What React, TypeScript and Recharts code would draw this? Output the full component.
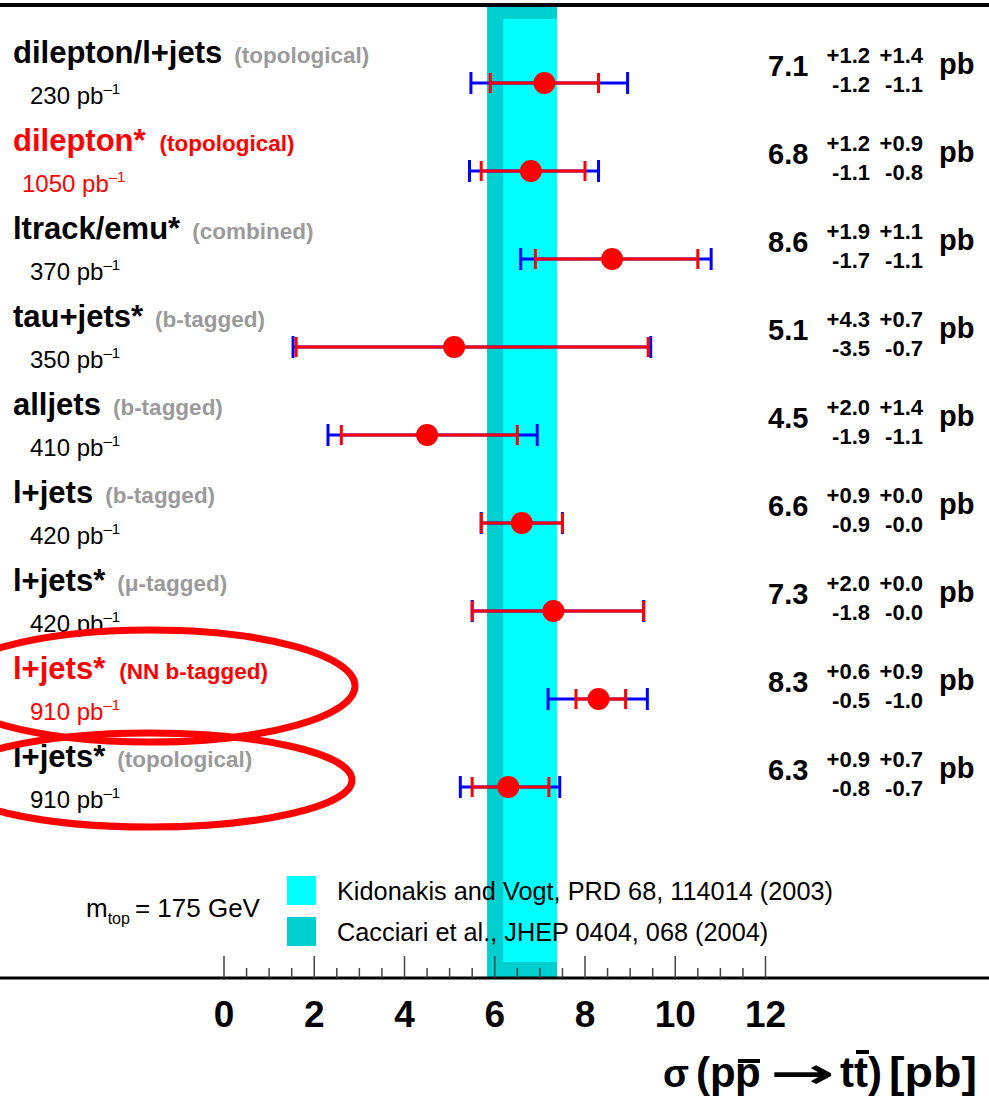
import React from 'react';
import {
  ComposedChart,
  Scatter,
  XAxis,
  YAxis,
  ErrorBar,
  ReferenceArea,
  ReferenceLine,
} from 'recharts';

// ---- measurements (pb) ----
const channels = ['dilepton/l+jets', 'dilepton*', 'ltrack/emu*', 'tau+jets*', 'alljets', 'l+jets', 'l+jets*', 'l+jets*', 'l+jets*'];
const methods = ['(topological)', '(topological)', '(combined)', '(b-tagged)', '(b-tagged)', '(b-tagged)', '(\u03bc-tagged)', '(NN b-tagged)', '(topological)'];
const lumis = ['230', '1050', '370', '350', '410', '420', '420', '910', '910'];
const highlighted = [false, true, false, false, false, false, false, true, false];
const xsec = [7.1, 6.8, 8.6, 5.1, 4.5, 6.6, 7.3, 8.3, 6.3];
const statUp = [1.2, 1.2, 1.9, 4.3, 2.0, 0.9, 2.0, 0.6, 0.9];
const statDown = [1.2, 1.1, 1.7, 3.5, 1.9, 0.9, 1.8, 0.5, 0.8];
const systUp = [1.4, 0.9, 1.1, 0.7, 1.4, 0.0, 0.0, 0.9, 0.7];
const systDown = [1.1, 0.8, 1.1, 0.7, 1.1, 0.0, 0.0, 1.0, 0.7];

// ---- theory predictions (pb) ----
const theoryLabels = ['Kidonakis and Vogt, PRD 68, 114014 (2003)', 'Cacciari et al., JHEP 0404, 068 (2004)'];
const theoryLow = [6.19, 5.83];
const theoryHigh = [7.38, 7.38];
const theoryColors = ['#00ffff', '#00cfcf'];

// ---- axis ticks ----
const majorTicks = [0, 2, 4, 6, 8, 10, 12];
const minorTicks = [0, 0.5, 1, 1.5, 2, 2.5, 3, 3.5, 4, 4.5, 5, 5.5, 6, 6.5, 7, 7.5, 8, 8.5, 9, 9.5, 10, 10.5, 11, 11.5, 12];

// ---- layout ----
const W = 989;
const H = 1104;
const PLOT_TOP = 5;
const PLOT_BOTTOM = 978;
const ROW0 = 83;
const ROW_STEP = 88;
const X_ZERO = 224;
const PX_PER_PB = 45.125;
const FONT = '"Liberation Sans", Arial, Helvetica, sans-serif';
const RED = '#ff0000';
const BLUE = '#0000ff';

const xDomain: [number, number] = [-X_ZERO / PX_PER_PB, (W - X_ZERO) / PX_PER_PB];
const yTop = (PLOT_TOP - ROW0) / ROW_STEP;
const yBottom = (PLOT_BOTTOM - ROW0) / ROW_STEP;
const lightTop = (19 - ROW0) / ROW_STEP;
const lightBottom = (962 - ROW0) / ROW_STEP;

const quad = (a: number, b: number) => Math.sqrt(a * a + b * b);

const points = xsec.map((v, i) => ({
  xs: v,
  row: i,
  stat: [statDown[i], statUp[i]],
  total: [quad(statDown[i], systDown[i]), quad(statUp[i], systUp[i])],
}));

const rowY = (i: number) => ROW0 + ROW_STEP * i;

const AxisTick = (props: any) => {
  const { x, y, payload } = props;
  const v = payload.value as number;
  const major = majorTicks.includes(v);
  return (
    <g>
      <line x1={x} x2={x} y1={y} y2={y - (major ? 22 : 10)} stroke="#444" strokeWidth={1.5} />
      {major && (
        <text x={x} y={y + 49} textAnchor="middle" fontSize={37} fontWeight="bold" fill="#000" fontFamily={FONT}>
          {v}
        </text>
      )}
    </g>
  );
};

const Dot = (props: any) => <circle cx={props.cx} cy={props.cy} r={11} fill={RED} />;
const NoDot = () => <g />;

const fmt = (v: number) => v.toFixed(1);

export default function App() {
  return (
    <div style={{ position: 'absolute', left: 0, top: 0, width: W, height: H, background: '#fff' }}>
      <ComposedChart width={W} height={H} margin={{ top: PLOT_TOP, right: 0, bottom: 0, left: 0 }}>
        <XAxis
          type="number"
          dataKey="xs"
          domain={xDomain}
          allowDataOverflow
          ticks={minorTicks}
          interval={0}
          height={H - PLOT_BOTTOM}
          axisLine={{ stroke: '#000', strokeWidth: 3 }}
          tickLine={false}
          tickSize={0}
          tickMargin={0}
          tick={<AxisTick />}
        />
        <YAxis type="number" dataKey="row" domain={[yTop, yBottom]} allowDataOverflow reversed hide />
        <ReferenceArea x1={theoryLow[1]} x2={theoryHigh[1]} y1={yTop} y2={yBottom} fill={theoryColors[1]} fillOpacity={1} stroke="none" />
        <ReferenceArea x1={theoryLow[0]} x2={theoryHigh[0]} y1={lightTop} y2={lightBottom} fill={theoryColors[0]} fillOpacity={1} stroke="none" />
        <ReferenceLine y={yTop} stroke="#000" strokeWidth={4} />
        <Scatter data={points} dataKey="row" shape={<NoDot />} isAnimationActive={false}>
          <ErrorBar dataKey="total" direction="x" width={11} stroke={BLUE} strokeWidth={3} isAnimationActive={false} />
        </Scatter>
        <Scatter data={points} dataKey="row" shape={<Dot />} isAnimationActive={false}>
          <ErrorBar dataKey="stat" direction="x" width={10} stroke={RED} strokeWidth={3} isAnimationActive={false} />
        </Scatter>
      </ComposedChart>

      <svg
        width={W}
        height={H}
        style={{ position: 'absolute', left: 0, top: 0, pointerEvents: 'none' }}
        fontFamily={FONT}
      >
        {channels.map((name, i) => {
          const y = rowY(i);
          const hl = highlighted[i];
          const col = hl ? RED : '#000';
          return (
            <g key={i}>
              <text x={13} y={y - 20} fontSize={31} fontWeight="bold" fill={col}>
                {name}
                <tspan dx={hl ? 14 : 12} fontSize={22.5} fill={hl ? RED : '#9a9a9a'}>
                  {methods[i]}
                </tspan>
              </text>
              <text x={lumis[i].length > 3 ? 22 : 30} y={y + 21} fontSize={24} fill={col}>
                {lumis[i]} pb
                <tspan dy={-10} fontSize={15}>
                  {'\u20131'}
                </tspan>
              </text>
              <text x={768} y={y - 7} fontSize={29} fontWeight="bold" fill="#000">
                {fmt(xsec[i])}
              </text>
              <text x={870} y={y - 20} fontSize={22} fontWeight="bold" textAnchor="end">
                {'+' + fmt(statUp[i])}
              </text>
              <text x={923} y={y - 20} fontSize={22} fontWeight="bold" textAnchor="end">
                {'+' + fmt(systUp[i])}
              </text>
              <text x={870} y={y + 9} fontSize={22} fontWeight="bold" textAnchor="end">
                {'-' + fmt(statDown[i])}
              </text>
              <text x={923} y={y + 9} fontSize={22} fontWeight="bold" textAnchor="end">
                {'-' + fmt(systDown[i])}
              </text>
              <text x={939} y={y - 9} fontSize={29} fontWeight="bold">
                pb
              </text>
            </g>
          );
        })}

        {/* legend */}
        <text x={86} y={917} fontSize={26}>
          m
          <tspan dy={7} fontSize={16}>top</tspan>
          <tspan dy={-7} dx={5}>= 175 GeV</tspan>
        </text>
        {theoryLabels.map((label, i) => (
          <g key={label}>
            <rect x={287} y={876 + 41 * i} width={29} height={29} fill={theoryColors[i]} />
            <text x={337} y={900 + 41 * i} fontSize={25.3} fill="#000">
              {label}
            </text>
          </g>
        ))}

        {/* axis title */}
        <g fontSize={42} fontWeight="bold" fill="#000">
          <text x={663} y={1087} fontSize={38}>{'\u03c3'}</text>
          <text x={696} y={1087}>(</text>
          <text x={710} y={1087}>p</text>
          <text x={735} y={1087}>p</text>
          <rect x={738} y={1059} width={22} height={4} />
          <text x={770} y={1088} textLength={65} lengthAdjust="spacingAndGlyphs" fontFamily='"DejaVu Sans", sans-serif'>
            {'\u2192'}
          </text>
          <text x={840} y={1087}>t</text>
          <text x={854} y={1087}>t</text>
          <rect x={856} y={1050} width={13} height={4} />
          <text x={868} y={1087}>)</text>
          <text x={889} y={1087} textLength={88} lengthAdjust="spacingAndGlyphs">[pb]</text>
        </g>

        {/* highlight rings */}
        <ellipse cx={150} cy={686} rx={205} ry={56} fill="none" stroke={RED} strokeWidth={7} />
        <ellipse cx={150} cy={780} rx={202} ry={47} fill="none" stroke={RED} strokeWidth={7} />
      </svg>
    </div>
  );
}
